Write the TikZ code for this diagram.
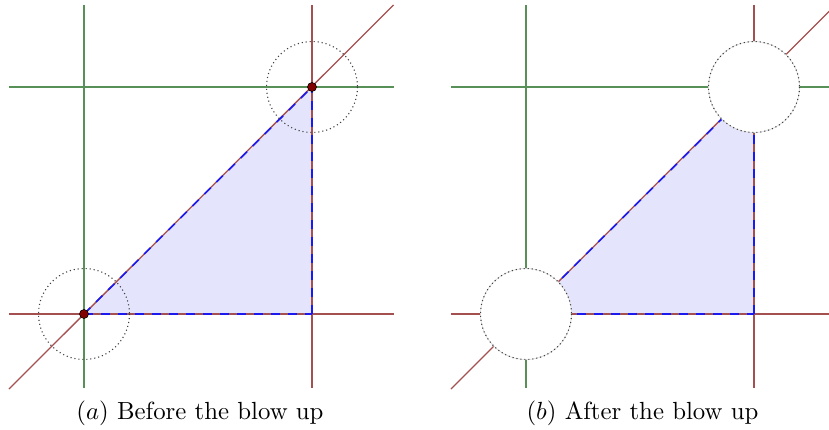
\documentclass[tikz,border=0pt]{standalone}
\usepackage{graphicx}
\definecolor{lgreen}{RGB}{88,145,88}
\definecolor{lbrown}{RGB}{165,80,80}
\definecolor{lblue}{RGB}{25,25,240}
\definecolor{lfill}{RGB}{228,228,252}
\definecolor{ddot}{RGB}{130,0,0}
\tikzset{
  gline/.style={lgreen,line width=1.2pt},
  bline/.style={lbrown,line width=1.3pt},
  edgedash/.style={lblue,line width=1.6pt,dash pattern=on 9pt off 8pt},
  dotcirc/.style={black!75,line width=1.1pt,dash pattern=on 1.1pt off 2.9pt},
  ptdot/.style={circle,fill=ddot,draw=black,line width=0.6pt,inner sep=0pt,minimum size=9pt},
  captext/.style={anchor=base,inner sep=0pt}
}
\newcommand{\mycaptxt}[1]{\scalebox{2.48}{#1}}
\begin{document}
\begin{tikzpicture}[x=1pt,y=-1pt]
\useasboundingbox (0,0) rectangle (829,429);
\clip (0,0) rectangle (829,429);
% ---------- left panel ----------
\coordinate (A) at (84,314);
\coordinate (B) at (312,87);
\coordinate (C) at (312,314);
\fill[lfill] (A) -- (B) -- (C) -- cycle;
\draw[gline] (84,5) -- (84,388);
\draw[gline] (9,87) -- (394,87);
\draw[bline] (312,5) -- (312,388);
\draw[bline] (9,314) -- (394,314);
\draw[bline] (9,389) -- (393.5,5);
\draw[edgedash] (A) -- (B);
\draw[edgedash] (A) -- (C);
\draw[edgedash] (C) -- (B);
\draw[dotcirc] (A) circle[radius=45.5];
\draw[dotcirc] (B) circle[radius=45.5];
\node[ptdot] (pA) at (A) {};
\node[ptdot] (pB) at (B) {};
\node[captext] (capa) at (200,419) {\mycaptxt{$(a)$ Before the blow up}};
% ---------- right panel ----------
\coordinate (A2) at (526,314);
\coordinate (B2) at (754,87);
\coordinate (C2) at (754,314);
\fill[lfill] (A2) -- (B2) -- (C2) -- cycle;
\draw[gline] (526,5) -- (526,388);
\draw[gline] (451,87) -- (836,87);
\draw[bline] (754,5) -- (754,388);
\draw[bline] (451,314) -- (836,314);
\draw[bline] (451,389) -- (835.5,5);
\draw[edgedash] (A2) -- (B2);
\draw[edgedash] (A2) -- (C2);
\draw[edgedash] (C2) -- (B2);
\fill[white] (A2) circle[radius=45.5];
\fill[white] (B2) circle[radius=45.5];
\draw[black!15,line width=0.6pt] (A2) circle[radius=45.5];
\draw[black!15,line width=0.6pt] (B2) circle[radius=45.5];
\draw[dotcirc] (A2) circle[radius=45.5];
\draw[dotcirc] (B2) circle[radius=45.5];
\node[captext] (capb) at (642.5,419) {\mycaptxt{$(b)$ After the blow up}};
\end{tikzpicture}
\end{document}
